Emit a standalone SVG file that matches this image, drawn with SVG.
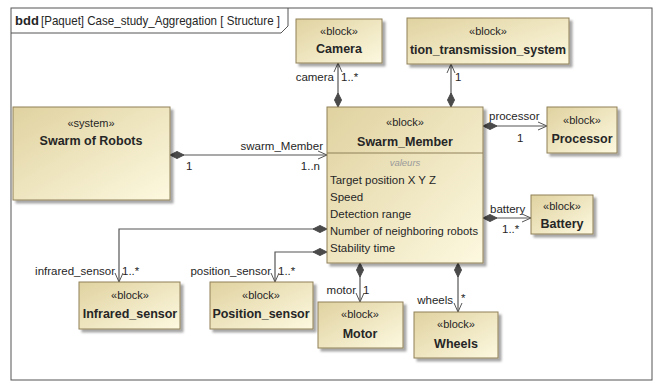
<svg xmlns="http://www.w3.org/2000/svg" width="657" height="383" viewBox="0 0 657 383">
<defs>
<linearGradient id="g" x1="0" y1="0" x2="1" y2="1">
<stop offset="0" stop-color="#e0d2a0"/>
<stop offset="1" stop-color="#fdf9e0"/>
</linearGradient>
<filter id="sh" x="-10%" y="-10%" width="130%" height="130%">
<feOffset dx="3" dy="3" in="SourceAlpha" result="o"/>
<feGaussianBlur in="o" stdDeviation="1.2" result="b"/>
<feFlood flood-color="#000" flood-opacity="0.35"/>
<feComposite in2="b" operator="in" result="s"/>
<feMerge><feMergeNode in="s"/><feMergeNode in="SourceGraphic"/></feMerge>
</filter>
<marker id="dia" markerUnits="userSpaceOnUse" markerWidth="16" markerHeight="10" viewBox="0 0 16 10" refX="0" refY="5" orient="auto">
<path d="M0,5 L7,1.5 L14,5 L7,8.5 Z" fill="#4a4a4a" stroke="#4a4a4a" stroke-width="1"/>
</marker>
<marker id="arr" markerUnits="userSpaceOnUse" markerWidth="12" markerHeight="10" viewBox="0 0 12 10" refX="10" refY="5" orient="auto">
<path d="M1,1 L10,5 L1,9" fill="none" stroke="#555" stroke-width="1"/>
</marker>
</defs>
<style>
.blk{fill:url(#g);stroke:#8f8058;stroke-width:1;filter:url(#sh)}
.t{font-family:"Liberation Sans",Arial,sans-serif;fill:#262626}
.st{font-size:11px}
.nm{font-size:12.5px;font-weight:bold}
.lb{font-size:11.5px}
.at{font-size:11.5px}
.c{text-anchor:middle}
.r{text-anchor:end}
.ln{fill:none;stroke:#555;stroke-width:1.2}
</style>
<rect x="0" y="0" width="657" height="383" fill="#fff"/>
<g id="frame">
<rect x="11" y="8" width="641" height="372" fill="none" stroke="#555" stroke-width="1"/>
<path d="M11,33 L281,33 L288,26 L288,8" fill="none" stroke="#555" stroke-width="1"/>
<text class="t" x="15" y="25" font-size="13" font-weight="bold">bdd</text>
<text class="t" x="41" y="25" font-size="13" textLength="239" lengthAdjust="spacingAndGlyphs">[Paquet] Case_study_Aggregation [ Structure ]</text>
</g>
<g id="connectors">
<path class="ln" d="M170,155 L327,155" marker-start="url(#dia)" marker-end="url(#arr)"/>
<path class="ln" d="M338,107 L338,63" marker-start="url(#dia)" marker-end="url(#arr)"/>
<path class="ln" d="M451,107 L451,64" marker-start="url(#dia)" marker-end="url(#arr)"/>
<path class="ln" d="M483,126 L547,126" marker-start="url(#dia)" marker-end="url(#arr)"/>
<path class="ln" d="M483,218 L531,218" marker-start="url(#dia)" marker-end="url(#arr)"/>
<path class="ln" d="M327,229 L119,229 L119,282" marker-start="url(#dia)" marker-end="url(#arr)"/>
<path class="ln" d="M327,252 L275,252 L275,282" marker-start="url(#dia)" marker-end="url(#arr)"/>
<path class="ln" d="M360,263 L360,302" marker-start="url(#dia)" marker-end="url(#arr)"/>
<path class="ln" d="M458,263 L458,312" marker-start="url(#dia)" marker-end="url(#arr)"/>
<text class="t lb r" x="323" y="150">swarm_Member</text>
<text class="t lb" x="186" y="170">1</text>
<text class="t lb r" x="320" y="170">1..n</text>
<text class="t lb r" x="334" y="81">camera</text>
<text class="t lb" x="341" y="81">1..*</text>
<text class="t lb" x="455" y="81">1</text>
<text class="t lb" x="489" y="120">processor</text>
<text class="t lb" x="517" y="142">1</text>
<text class="t lb" x="490" y="213">battery</text>
<text class="t lb" x="502" y="233">1..*</text>
<text class="t lb r" x="115" y="275">infrared_sensor</text>
<text class="t lb" x="122" y="275">1..*</text>
<text class="t lb r" x="271" y="275">position_sensor</text>
<text class="t lb" x="278" y="275">1..*</text>
<text class="t lb r" x="356" y="294">motor</text>
<text class="t lb" x="363" y="294">1</text>
<text class="t lb r" x="453" y="304">wheels</text>
<text class="t lb" x="461" y="302">*</text>
</g>
<g id="swarm_of_robots">
<rect class="blk" x="13" y="107" width="157" height="93"/>
<text class="t st c" x="91" y="127">«system»</text>
<text class="t nm c" x="91" y="145">Swarm of Robots</text>
</g>
<g id="camera">
<rect class="blk" x="296" y="19" width="86" height="44"/>
<text class="t st c" x="339" y="35">«block»</text>
<text class="t nm c" x="339" y="53">Camera</text>
</g>
<g id="transmission_system">
<rect class="blk" x="407" y="18" width="162" height="46"/>
<text class="t st c" x="488" y="35">«block»</text>
<text class="t nm c" x="488" y="54" textLength="156" lengthAdjust="spacingAndGlyphs">tion_transmission_system</text>
</g>
<g id="swarm_member">
<rect class="blk" x="327" y="107" width="156" height="156"/>
<line x1="327" y1="153" x2="483" y2="153" stroke="#8f8058" stroke-width="1"/>
<text class="t st c" x="405" y="126">«block»</text>
<text class="t nm c" x="405" y="146">Swarm_Member</text>
<text class="t c" x="405" y="166" font-size="9.5" font-style="italic" style="fill:#9a9a9a">valeurs</text>
<text class="t at" x="330" y="184" textLength="106" lengthAdjust="spacingAndGlyphs">Target position X Y Z</text>
<text class="t at" x="330" y="201">Speed</text>
<text class="t at" x="330" y="218">Detection range</text>
<text class="t at" x="330" y="235" textLength="148" lengthAdjust="spacingAndGlyphs">Number of neighboring robots</text>
<text class="t at" x="330" y="252">Stability time</text>
</g>
<g id="processor">
<rect class="blk" x="547" y="107" width="70" height="46"/>
<text class="t st c" x="582" y="124">«block»</text>
<text class="t nm c" x="582" y="143">Processor</text>
</g>
<g id="battery">
<rect class="blk" x="531" y="195" width="62" height="39"/>
<text class="t st c" x="562" y="210">«block»</text>
<text class="t nm c" x="562" y="228">Battery</text>
</g>
<g id="infrared_sensor">
<rect class="blk" x="79" y="282" width="101" height="47"/>
<text class="t st c" x="130" y="299">«block»</text>
<text class="t nm c" x="130" y="318">Infrared_sensor</text>
</g>
<g id="position_sensor">
<rect class="blk" x="210" y="282" width="103" height="47"/>
<text class="t st c" x="261" y="299">«block»</text>
<text class="t nm c" x="261" y="318">Position_sensor</text>
</g>
<g id="motor">
<rect class="blk" x="318" y="302" width="85" height="46"/>
<text class="t st c" x="360" y="318">«block»</text>
<text class="t nm c" x="360" y="338">Motor</text>
</g>
<g id="wheels">
<rect class="blk" x="414" y="312" width="84" height="46"/>
<text class="t st c" x="456" y="328">«block»</text>
<text class="t nm c" x="456" y="348">Wheels</text>
</g>
</svg>
